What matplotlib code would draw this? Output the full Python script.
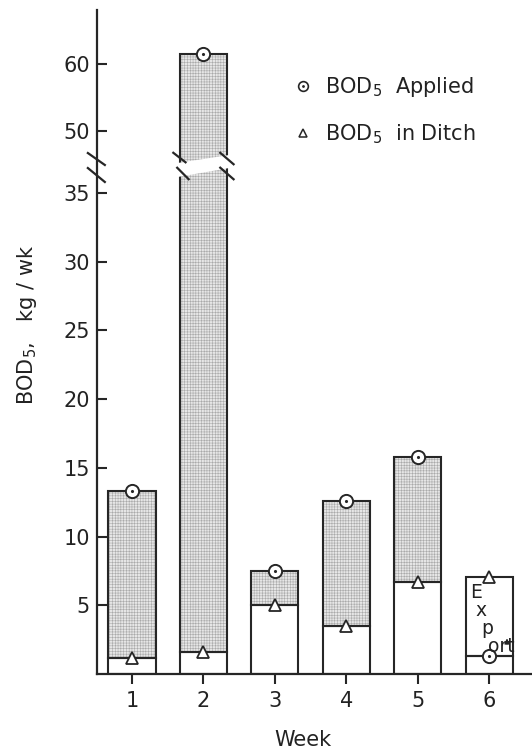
import matplotlib
matplotlib.use("Agg")
import matplotlib.pyplot as plt
from matplotlib.patches import FancyArrowPatch, Polygon
import numpy as np

# weekly BOD5 loads, kg/wk
weeks = [1, 2, 3, 4, 5, 6]
week_labels = ["1", "2", "3", "4", "5", "6"]
bod_applied = [13.3, 61.5, 7.5, 12.6, 15.8, 1.3]
bod_ditch = [1.2, 1.6, 5.0, 3.5, 6.7, 7.05]

y_ticks = [5, 10, 15, 20, 25, 30, 35, 50, 60]
y_ticklabels = ["5", "10", "15", "20", "25", "30", "35", "50", "60"]

INK = "#262626"
TXT = "#222222"
plt.rcParams["font.family"] = ["DejaVu Sans"]
plt.rcParams["hatch.linewidth"] = 0.4

# broken y axis: linear up to 38, squeezed gap, then half scale above 47
knots_y = np.array([-100.0, 38.0, 47.0, 200.0])
knots_f = np.array([-100.0, 38.0, 39.5 - 3 * 0.489, 39.5 + 150 * 0.489])

def fwd(y):
    return np.interp(y, knots_y, knots_f)

def inv(v):
    return np.interp(v, knots_f, knots_y)

fig = plt.figure(figsize=(5.32, 7.53), dpi=100)
ax = fig.add_axes([97 / 532, 1 - 674 / 753, (532 - 97) / 532, (674 - 10) / 753])
ax.set_yscale("function", functions=(fwd, inv))
ax.set_ylim(0, 68)
ax.set_xlim(0.51, 6.6)

w = 0.66
x = np.array(weeks)
applied = np.array(bod_applied)
ditch = np.array(bod_ditch)
low = np.minimum(applied, ditch)
high = np.maximum(applied, ditch)
stipple = applied > ditch

# stippled part between ditch and applied
ax.bar(x[stipple], (applied - ditch)[stipple], w, bottom=ditch[stipple],
       color="#e6e6e6", edgecolor="#aaaaaa", linewidth=0, hatch="++++++", zorder=2)
# week 6: ditch above applied, left white
ax.bar(x[~stipple], (high - low)[~stipple], w, bottom=low[~stipple],
       color="white", linewidth=0, zorder=2)
# outlines
ax.bar(x, low, w, facecolor="none", edgecolor=INK, linewidth=1.5, zorder=3)
ax.bar(x, high - low, w, bottom=low, facecolor="none", edgecolor=INK,
       linewidth=1.5, zorder=3)

# markers
ax.plot(x, applied, "o", ms=9.5, mfc="white", mec=INK, mew=1.4, zorder=6)
ax.plot(x, applied, ".", ms=2.5, color=INK, zorder=7)
ax.plot(x, ditch, "^", ms=8, mfc="white", mec=INK, mew=1.3, zorder=6)

# break in the week-2 bar
bt = ax.get_xaxis_transform()
b = weeks[1]
ax.add_patch(Polygon([[b - 0.36, 0.7696], [b + 0.36, 0.7816],
                      [b + 0.36, 0.762], [b - 0.36, 0.7485]],
                     closed=True, facecolor="white", edgecolor="none",
                     transform=bt, zorder=4))
for x0, x1, y0, y1 in [(b - 0.434, b - 0.238, 0.786, 0.7696),
                       (b - 0.378, b - 0.196, 0.7636, 0.744),
                       (b + 0.224, b + 0.434, 0.786, 0.7666),
                       (b + 0.224, b + 0.434, 0.7636, 0.744)]:
    ax.plot([x0, x1], [y0, y1], color=INK, lw=1.6, transform=bt, zorder=5,
            solid_capstyle="butt")

# break marks on the y axis
for y0, y1 in [(0.7846, 0.7666), (0.762, 0.741)]:
    ax.plot([-0.021, 0.018], [y0, y1], color=INK, lw=1.6,
            transform=ax.transAxes, clip_on=False, zorder=5)

# "Export" stepped down the week-6 bar
e = weeks[5]
ax.text(e - 0.27, 6.6, "E\n x\n  p\n   ort", fontsize=13.5, color=TXT,
        ha="left", va="top", linespacing=0.92, zorder=8)
ax.add_patch(FancyArrowPatch((e + 0.25, 2.0), (e + 0.25, 2.8),
                             arrowstyle="-|>", mutation_scale=7, color=INK,
                             lw=1.1, zorder=8))

# axes styling
for s in ["top", "right"]:
    ax.spines[s].set_visible(False)
for s in ["left", "bottom"]:
    ax.spines[s].set_linewidth(1.6)
    ax.spines[s].set_color(INK)

ax.set_yticks(y_ticks)
ax.set_yticklabels(y_ticklabels)
ax.yaxis.set_minor_locator(matplotlib.ticker.NullLocator())
ax.tick_params(axis="y", direction="in", length=7, width=1.5, color=INK,
               labelsize=15, labelcolor=TXT, pad=5)
ax.set_xticks(weeks)
ax.set_xticklabels(week_labels)
ax.tick_params(axis="x", direction="out", length=7, width=1.5, color=INK,
               labelsize=15, labelcolor=TXT, pad=5)

ax.text(0.474, -0.099, "Week", transform=ax.transAxes, ha="center",
        va="center", fontsize=15, color=TXT)
ax.text(-0.161, 0.526, r"$\mathregular{BOD_5}$,   kg / wk", transform=ax.transAxes,
        ha="center", va="center", rotation=90, fontsize=15, color=TXT)

# legend
h_app = (ax.plot([], [], "o", ms=7, mfc="white", mec=INK, mew=1.2)[0],
         ax.plot([], [], ".", ms=2, color=INK)[0])
h_dit = ax.plot([], [], "^", ms=6, mfc="white", mec=INK, mew=1.1)[0]
ax.legend([h_app, h_dit],
          [r"$\mathregular{BOD_5}$  Applied", r"$\mathregular{BOD_5}$  in Ditch"],
          loc="upper left", bbox_to_anchor=(0.453, 0.902), frameon=False,
          fontsize=15, labelcolor=TXT, handlelength=0.9, handletextpad=0.6,
          labelspacing=1.1, borderpad=0, borderaxespad=0)

fig.savefig("out.png", dpi=100)
